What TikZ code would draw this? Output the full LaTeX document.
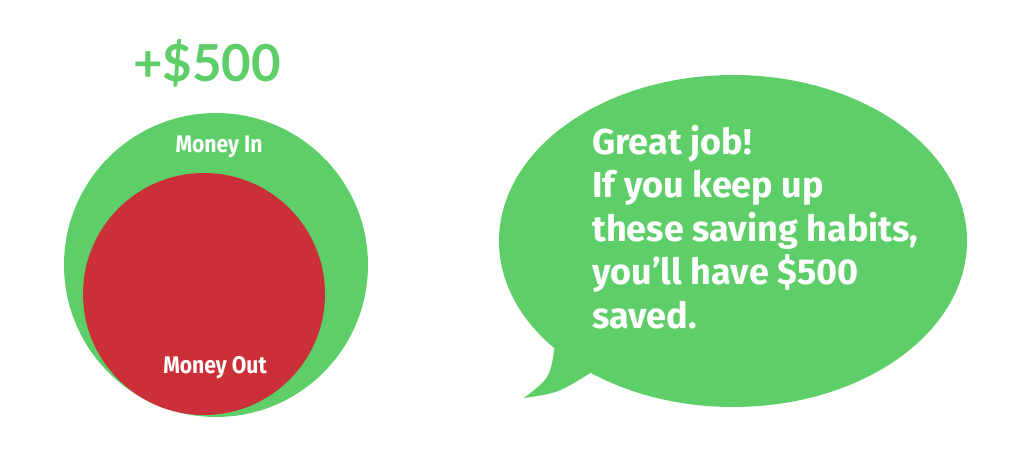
\documentclass[tikz,border=0pt]{standalone}
\usepackage{fontspec}
\setmainfont{Fira Sans}
\newfontfamily\bubfont{Fira Sans}
\newfontfamily\labfont{Fira Sans}[FakeStretch=0.88]
\newfontfamily\sumfont{Lato}
\definecolor{mgreen}{RGB}{94,206,104}
\definecolor{mred}{RGB}{203,48,56}
\tikzset{
  disc/.style={circle, inner sep=0pt, outer sep=0pt},
  lab/.style={text=white, font=\labfont\bfseries\fontsize{24}{28}\selectfont, inner sep=0pt},
}
\begin{document}
\begin{tikzpicture}[x=1pt,y=-1pt]
\useasboundingbox (0,0) rectangle (1024,449);
\node[disc, fill=mgreen, minimum size=304pt] (in) at (216,265) {};
\node[disc, fill=mred, minimum size=242pt] (out) at (204,294) {};
\node[lab] (inlab) at (219,147) {Money In};
\node[lab] (outlab) at (215,368) {Money Out};
\node[text=mgreen, font=\sumfont\bfseries\fontsize{51}{60}\selectfont, inner sep=0pt] (sum) at (207,63) {+\$500};
% speech bubble
\fill[mgreen] (733,241) ellipse [x radius=234, y radius=166];
\fill[mgreen] (555,345) .. controls (550,378) .. (524,398) .. controls (558,393) .. (592,372) -- (610,330) -- cycle;
\node[anchor=north west, inner sep=0pt, align=left, text=white,
      font=\bubfont\bfseries\fontsize{36}{43.5}\selectfont] (msg) at (592,125)
  {Great job!\\If you keep up\\these saving habits,\\you’ll have \$500\\saved.};
\end{tikzpicture}
\end{document}
